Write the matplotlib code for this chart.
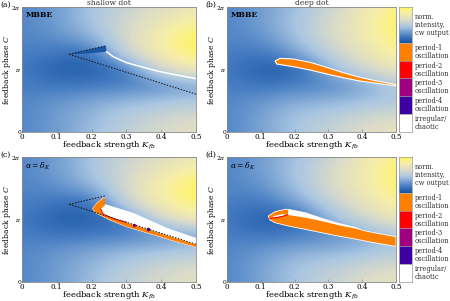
import numpy as np
import matplotlib
matplotlib.use("Agg")
import matplotlib.pyplot as plt
from matplotlib.colors import LinearSegmentedColormap

plt.rcParams['font.family'] = 'DejaVu Serif'
plt.rcParams['mathtext.fontset'] = 'dejavuserif'

k_grid = [0.0, 0.1, 0.2, 0.3, 0.4, 0.5]
c_grid = [0.0, 0.25, 0.5, 0.75, 1.0, 1.25, 1.5, 1.75, 2.0]  # in units of pi

# rows: C from 0 to 2pi, columns: K from 0 to 0.5
shallow_intensity = [
    [0.22, 0.30, 0.42, 0.54, 0.64, 0.70],
    [0.22, 0.30, 0.40, 0.50, 0.58, 0.64],
    [0.22, 0.28, 0.33, 0.40, 0.44, 0.48],
    [0.20, 0.15, 0.18, 0.20, 0.24, 0.32],
    [0.18, 0.06, 0.05, 0.15, 0.62, 0.80],
    [0.20, 0.15, 0.10, 0.58, 0.82, 0.96],
    [0.22, 0.25, 0.36, 0.62, 0.86, 1.00],
    [0.22, 0.30, 0.45, 0.62, 0.76, 0.90],
    [0.22, 0.30, 0.45, 0.56, 0.66, 0.74],
]
deep_intensity = [
    [0.22, 0.32, 0.45, 0.56, 0.66, 0.74],
    [0.22, 0.32, 0.45, 0.50, 0.58, 0.64],
    [0.22, 0.28, 0.35, 0.38, 0.42, 0.48],
    [0.20, 0.15, 0.20, 0.22, 0.32, 0.48],
    [0.18, 0.05, 0.05, 0.38, 0.58, 0.74],
    [0.20, 0.15, 0.30, 0.52, 0.72, 0.88],
    [0.22, 0.25, 0.42, 0.62, 0.78, 0.95],
    [0.22, 0.30, 0.45, 0.62, 0.80, 0.98],
    [0.22, 0.30, 0.42, 0.56, 0.74, 0.92],
]

# saddle-node lines (shallow dot), C in units of pi
fold_upper_k = [0.136, 0.241]
fold_upper_c = [1.243, 1.38]
fold_lower_k = [0.136, 0.50]
fold_lower_c = [1.243, 0.605]

# (a) dark bistable wedge and white boundary line
a_wedge_k = [0.136, 0.18, 0.241, 0.243, 0.19]
a_wedge_c = [1.243, 1.30, 1.38, 1.285, 1.255]
a_edge_k = [0.243, 0.262, 0.301, 0.349, 0.397, 0.445, 0.50]
a_edge_c = [1.285, 1.205, 1.109, 1.035, 0.965, 0.912, 0.855]

# (b) period-1 island
b_upper_k = [0.142, 0.157, 0.196, 0.246, 0.295, 0.344, 0.393, 0.443, 0.50]
b_upper_c = [1.136, 1.179, 1.168, 1.115, 1.035, 0.949, 0.875, 0.816, 0.760]
b_lower_k = [0.147, 0.196, 0.246, 0.295, 0.344, 0.393, 0.443, 0.50]
b_lower_c = [1.088, 1.045, 0.992, 0.928, 0.869, 0.816, 0.779, 0.738]

# (c) oscillation band
c_outer_k = [0.237, 0.215, 0.203, 0.210, 0.253, 0.301, 0.349, 0.397, 0.445, 0.50]
c_outer_c = [1.355, 1.259, 1.179, 1.115, 0.992, 0.885, 0.805, 0.725, 0.645, 0.560]
c_inner_k = [0.237, 0.239, 0.226, 0.234, 0.301, 0.397, 0.50]
c_inner_c = [1.355, 1.232, 1.168, 1.083, 0.949, 0.779, 0.600]
c_white_k = [0.229, 0.243, 0.320, 0.416, 0.50]
c_white_c = [1.259, 1.232, 1.099, 0.859, 0.699]
c_red_k = [0.226, 0.234, 0.27, 0.30]
c_red_c = [1.168, 1.083, 1.00, 0.955]
c_p3_k = [0.322]
c_p3_c = [0.905]
c_p4_k = [0.362]
c_p4_c = [0.85]

# (d) oscillation island
d_upper_k = [0.122, 0.142, 0.172, 0.181, 0.231, 0.280, 0.329, 0.379, 0.398, 0.428, 0.50]
d_upper_c = [1.056, 1.125, 1.163, 1.163, 1.109, 1.019, 0.939, 0.875, 0.832, 0.795, 0.725]
d_lower_k = [0.127, 0.142, 0.181, 0.231, 0.280, 0.329, 0.379, 0.428, 0.50]
d_lower_c = [0.992, 0.949, 0.896, 0.843, 0.789, 0.736, 0.688, 0.635, 0.570]
d_white_k = [0.181, 0.231, 0.280, 0.329, 0.379, 0.398]
d_white_c = [1.072, 1.03, 0.975, 0.91, 0.855, 0.832]
d_eye_k = [0.128, 0.145, 0.165, 0.178, 0.165, 0.145]
d_eye_c = [1.025, 1.065, 1.085, 1.08, 1.055, 1.035]
d_red_k = [0.127, 0.145, 0.165, 0.178]
d_red_c = [1.02, 1.03, 1.05, 1.075]

cb_labels = ['norm.\nintensity,\ncw output', 'period-1\noscillation', 'period-2\noscillation',
             'period-3\noscillation', 'period-4\noscillation', 'irregular/\nchaotic']
cb_colors = ['#ff8000', '#ff0000', '#a0007e', '#3c00a5', '#ffffff']

cmap = LinearSegmentedColormap.from_list('cw', [
    (0.0, '#1552a3'), (0.2, '#4a80c4'), (0.45, '#a9c6e2'),
    (0.65, '#dcdcc8'), (0.85, '#f7efa6'), (1.0, '#fff45a')])

W, H = 450, 301
fig = plt.figure(figsize=(4.5, 3.01), dpi=100)


def px_axes(x0, y0, x1, y1):
    return fig.add_axes([x0 / W, 1 - y1 / H, (x1 - x0) / W, (y1 - y0) / H])


def setup_panel(ax, field, label, ylab_x):
    dk = 0.1
    dc = 0.25 * np.pi
    ax.imshow(np.array(field), origin='lower', cmap=cmap, vmin=0, vmax=1,
              interpolation='bicubic', aspect='auto',
              extent=[k_grid[0] - dk / 2, k_grid[-1] + dk / 2,
                      c_grid[0] * np.pi - dc / 2, c_grid[-1] * np.pi + dc / 2])
    ax.set_xlim(0, 0.5)
    ax.set_ylim(0, 2 * np.pi)
    ax.set_xticks([0, 0.1, 0.2, 0.3, 0.4, 0.5])
    ax.set_xticklabels(['0', '0.1', '0.2', '0.3', '0.4', '0.5'], fontsize=5.2)
    ax.set_yticks([0, np.pi, 2 * np.pi])
    ax.set_yticklabels(['0', r'$\pi$', r'$2\pi$'], fontsize=4.2)
    ax.tick_params(direction='in', length=2, width=0.4, color='#777777', pad=0.8)
    ax.set_xlabel(r'feedback strength $K_{fb}$', fontsize=6)
    ax.xaxis.set_label_coords(0.5, -0.108)
    ax.xaxis.label.set_va('center')
    ax.set_ylabel(r'feedback phase $C$', fontsize=5.5)
    ax.yaxis.set_label_coords(ylab_x, 0.5)
    ax.yaxis.label.set_va('center')
    for s in ax.spines.values():
        s.set_color('#888888')
        s.set_linewidth(0.6)
    ax.text(0.02, 0.97, label, transform=ax.transAxes, va='top', ha='left',
            fontsize=5.5, fontweight='bold' if label == 'MBBE' else 'normal')


def pi_list(vals):
    return [v * np.pi for v in vals]


def fold_lines(ax):
    ax.plot(fold_upper_k, pi_list(fold_upper_c), color='#111111', lw=0.7, ls=(0, (1.5, 1.5)))
    ax.plot(fold_lower_k, pi_list(fold_lower_c), color='#111111', lw=0.7, ls=(0, (1.5, 1.5)))


def colorbar(ax):
    grad = np.linspace(0, 1, 100).reshape(-1, 1)
    ax.imshow(grad, origin='lower', cmap=cmap, aspect='auto', extent=[0, 1, 5, 7])
    for i, col in enumerate(cb_colors):
        ax.bar(0.5, 1, bottom=4 - i, width=1, color=col, edgecolor='#999999', lw=0.4)
    ax.set_xlim(0, 1)
    ax.set_ylim(0, 7)
    ax.set_xticks([])
    ax.set_yticks([])
    for s in ax.spines.values():
        s.set_color('#999999')
        s.set_linewidth(0.5)
    centers = [6] + [4.5 - i for i in range(5)]
    for lab, yc in zip(cb_labels, centers):
        ax.text(1.2, yc, lab, fontsize=4.8, va='center', ha='left', color='#333333',
                linespacing=1.0, clip_on=False)


# (a) shallow dot, MBBE
ax = px_axes(22, 7, 196, 132)
setup_panel(ax, shallow_intensity, 'MBBE', -0.085)
ax.fill(a_wedge_k, pi_list(a_wedge_c), color='#1b57a6', lw=0)
ax.plot(a_edge_k, pi_list(a_edge_c), color='white', lw=1.1)
fold_lines(ax)
ax.set_title('shallow dot', fontsize=5.5, pad=1.5, color='#333333')

# (b) deep dot, MBBE
ax = px_axes(227, 7, 396, 132)
setup_panel(ax, deep_intensity, 'MBBE', -0.09)
ax.fill(b_upper_k + b_lower_k[::-1], pi_list(b_upper_c + b_lower_c[::-1]),
        facecolor='#ff8000', edgecolor='white', lw=0.8)
ax.set_title('deep dot', fontsize=5.5, pad=1.5, color='#333333')

# (c) shallow dot, alpha = delta_K
ax = px_axes(22, 157, 196, 282)
setup_panel(ax, shallow_intensity, r'$\alpha=\delta_K$', -0.085)
ax.fill(c_white_k + c_outer_k[::-1], pi_list(c_white_c + c_outer_c[::-1]),
        facecolor='white', edgecolor='white', lw=0.6)
ax.fill(c_outer_k + c_inner_k[::-1], pi_list(c_outer_c + c_inner_c[::-1]),
        facecolor='#ff8000', edgecolor='none')
ax.plot(c_red_k, pi_list(c_red_c), color='#ff0000', lw=0.7)
ax.plot(c_p3_k, pi_list(c_p3_c), 'o', color='#a0007e', ms=1.5)
ax.plot(c_p4_k, pi_list(c_p4_c), 'o', color='#3c00a5', ms=1.5)
fold_lines(ax)

# (d) deep dot, alpha = delta_K
ax = px_axes(227, 157, 396, 282)
setup_panel(ax, deep_intensity, r'$\alpha=\delta_K$', -0.09)
ax.fill(d_upper_k + d_lower_k[::-1], pi_list(d_upper_c + d_lower_c[::-1]),
        facecolor='#ff8000', edgecolor='white', lw=0.6)
ax.fill(d_upper_k[3:9] + d_white_k[::-1], pi_list(d_upper_c[3:9] + d_white_c[::-1]),
        facecolor='white', edgecolor='none')
ax.fill(d_eye_k, pi_list(d_eye_c), facecolor='white', edgecolor='none')
ax.plot(d_red_k, pi_list(d_red_c), color='#ff0000', lw=0.8)

# colour keys
colorbar(px_axes(399, 7, 412, 132))
colorbar(px_axes(399, 157, 412, 282))

for lab, y in [('(a)', 0), ('(b)', 0), ('(c)', 150), ('(d)', 150)]:
    x = 0 if lab in ('(a)', '(c)') else 205
    fig.text(x / W, 1 - (y + 1) / H, lab, fontsize=5.5, va='top', ha='left')

fig.savefig('out.png', dpi=100)
